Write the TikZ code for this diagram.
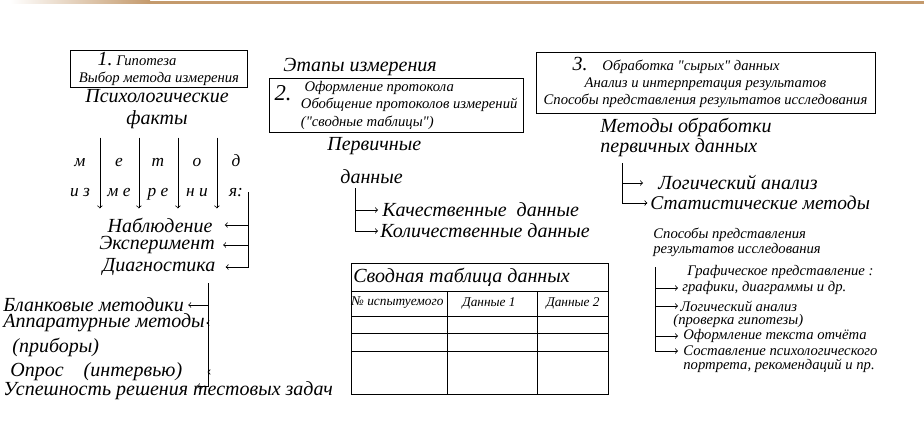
\documentclass[tikz,border=0pt]{standalone}
\usepackage{fontspec}
\setmainfont{Liberation Serif}
\newfontfamily\qfont{Liberation Serif}
\usetikzlibrary{positioning}
\usetikzlibrary{matrix}
\definecolor{barbrown}{RGB}{196,154,108}
\newcommand{\sq}{{\qfont"}}
\tikzset{
  big/.style={inner sep=0pt, font=\itshape\fontsize{15}{16}\selectfont},
  sml/.style={inner sep=0pt, font=\itshape\fontsize{11}{12}\selectfont},
  stagebox/.style={draw, line width=0.6pt, inner sep=1pt, align=center, font=\itshape\fontsize{11}{13}\selectfont},
  every path/.append style={line width=0.6pt}
}
\begin{document}
\begin{tikzpicture}[x=0.75pt,y=-0.75pt]
\useasboundingbox (0,0) rectangle (924,439);
\shade[left color=white, right color=barbrown, draw=none] (10,0.5) rectangle (150,3.5);
\fill[barbrown] (150,0.5) rectangle (924,3.5);

% stage 1
\node[stagebox, minimum width=132.75pt, minimum height=27.75pt] (st1) at (159,69)
  {{\fontsize{15}{15}\selectfont 1.}\ Гипотеза\hspace*{3em}\\Выбор метода измерения};
\node[big, align=center] (psy) at (157,109) {Психологические\\факты};
\matrix (mt) [matrix of nodes, column sep=0pt, row sep=0pt,
  nodes={minimum width=29.25pt, minimum height=22.5pt, inner sep=0pt,
  text height=1.6ex, text depth=.3ex, font=\itshape\fontsize{13}{13}\selectfont}] at (158,178)
{
{м} & {е} & {т} & {о} & {д} \\
{и з} & {м е} & {р е} & {н и} & {я:} \\
};
\foreach \c in {1,...,4}
  \draw[->, shorten <=-7.5pt] (mt-1-\c.north east) -- (mt-2-\c.south east);
\node[big] (nab) at (160,225) {Наблюдение};
\node[big] (exper) at (157,245) {Эксперимент};
\node[big] (diag) at (159,267) {Диагностика};
\coordinate (mb) at (248,192);
\draw[->, shorten >=9pt] (mb) |- (nab.east);
\draw[->, shorten >=6pt] (mb) |- (exper.east);
\draw[->, shorten >=7.5pt] (mb) |- (diag.east);

\node[big, anchor=west] (blank) at (3,305) {Бланковые методики};
\node[big, anchor=west] (appar) at (3,323) {Аппаратурные методы};
\node[big, anchor=west] (prib) at (12,347) {(приборы)};
\node[big, anchor=west] (opros) at (10,372) {Опрос\quad(интервью)};
\node[big, anchor=west] (usp) at (3,391) {Успешность решения тестовых задач};
\coordinate (dg) at (208,283);
\coordinate (dgend) at (197,386);
\draw[->, shorten >=3pt] (dg) |- (blank.east);
\draw[->, shorten >=1pt] (dg) |- (appar.east);
\draw[->, shorten >=18.75pt] (dg) |- (opros.east);
\draw[->] (dg) |- (dgend);

% stage 2
\node[big, anchor=west] (etapy) at (283,67) {Этапы измерения};
\node[stagebox, minimum width=190.5pt, minimum height=39.75pt] (st2) at (396,105.5)
  {\begin{tabular}{@{}l@{\hspace{7pt}}l@{}}
   \smash{\raisebox{-7pt}{\fontsize{17}{17}\selectfont 2.}} & \ Оформление протокола\\
   & Обобщение протоколов измерений\\
   & (\sq сводные таблицы\sq)
   \end{tabular}};
\node[big, anchor=west] (perv) at (327,146) {Первичные};
\node[big, anchor=west] (dan) at (340,177) {данные};
\node[big, anchor=west] (kach) at (382,210) {Качественные\ \ данные};
\node[big, anchor=west] (kol) at (380,231) {Количественные данные};
\coordinate (pd) at (355,188);
\draw[->, shorten >=3pt] (pd) |- (kach.west);
\draw[->, shorten >=1.5pt] (pd) |- (kol.west);

% summary table
\draw (351,263) rectangle (608,394);
\foreach \y in {291,316,333,351}
  \draw (351,\y) -- (608,\y);
\foreach \x in {447,537}
  \draw (\x,291) -- (\x,394);
\node[big, anchor=west] (tabtitle) at (353,277) {Сводная таблица данных};
\node[sml, anchor=west, font=\itshape\fontsize{10}{11}\selectfont] (hd1) at (351,303) {№ испытуемого};
\node[sml, font=\itshape\fontsize{10}{11}\selectfont] (hd2) at (489,303) {Данные 1};
\node[sml, font=\itshape\fontsize{10}{11}\selectfont] (hd3) at (573,303) {Данные 2};

% stage 3
\node[stagebox, minimum width=254.25pt, minimum height=45.75pt] (st3) at (705.5,82.5)
  {{\fontsize{15}{15}\selectfont 3.}\quad Обработка \sq сырых\sq\ данных\hspace*{4em}\\
   Анализ и интерпретация результатов\\
   Способы представления результатов исследования};
\node[big, anchor=west, align=left, font=\itshape\fontsize{15}{14.5}\selectfont] (metod) at (600,137.5)
  {Методы обработки\\первичных данных};
\node[big, anchor=west] (logan) at (658,183) {Логический анализ};
\node[big, anchor=west, font=\itshape\fontsize{14.6}{16}\selectfont] (stat) at (650,203) {Статистические методы};
\coordinate (mo) at (622,163);
\draw[->, shorten >=11.25pt] (mo) |- (logan.west);
\draw[->, shorten >=2pt] (mo) |- (stat.west);

\node[sml, anchor=west, align=left, font=\itshape\fontsize{11}{11.5}\selectfont] (sposob) at (653,242.5)
  {Способы представления\\результатов исследования};
\node[sml, anchor=west] (gr1) at (687,272) {Графическое представление :};
\node[sml, anchor=west] (gr2) at (682,288) {графики, диаграммы и др.};
\node[sml, anchor=west] (la1) at (680,306) {Логический анализ};
\node[sml, anchor=west] (la2) at (673,321) {(проверка гипотезы)};
\node[sml, anchor=west] (otch) at (683,336) {Оформление текста отчёта};
\node[sml, anchor=west] (port1) at (683,351) {Составление психологического};
\node[sml, anchor=west] (port2) at (683,366) {портрета, рекомендаций и пр.};
\coordinate (sr) at (655,267);
\draw[->, shorten >=3pt] (sr) |- (gr2.west);
\draw[->, shorten >=1.5pt] (sr) |- (la1.west);
\draw[->, shorten >=3.75pt] (sr) |- (otch.west);
\draw[->, shorten >=3.75pt] (sr) |- (port1.west);
\end{tikzpicture}
\end{document}
